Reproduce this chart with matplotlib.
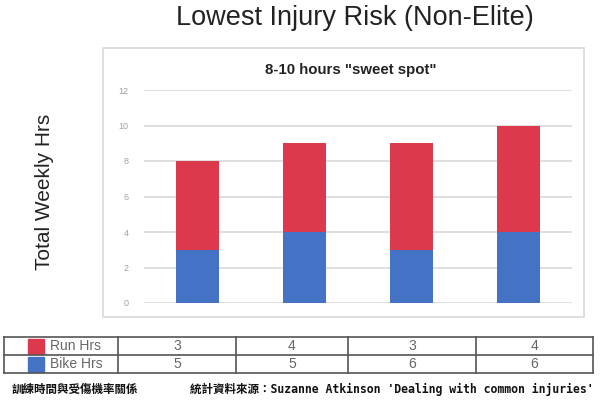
import matplotlib
matplotlib.use("Agg")
import matplotlib.pyplot as plt
from matplotlib.patches import Rectangle
import numpy as np

categories = ["A", "B", "C", "D"]
blue_vals = [3, 4, 3, 4]      # bottom segment (blue)
red_vals = [5, 5, 6, 6]       # top segment (red)
table_run = [3, 4, 3, 4]
table_bike = [5, 5, 6, 6]
row_labels = ["Run Hrs", "Bike Hrs"]
yticks = [0, 2, 4, 6, 8, 10, 12]

RED = "#DC3A4C"
BLUE = "#4472C4"

W, H = 600, 400
fig = plt.figure(figsize=(6, 4), dpi=100)
fig.patch.set_facecolor("white")

def fx(px):
    return px / W

def fy(py):
    return 1 - py / H

# outer chart box
fig.patches.append(Rectangle((fx(103), fy(317)), fx(584) - fx(103), fy(48) - fy(317),
                             transform=fig.transFigure, fill=False,
                             edgecolor="#d9d9d9", linewidth=1.2, zorder=0))

# main title
fig.text(fx(355), fy(18), "Lowest Injury Risk (Non-Elite)", ha="center", va="center",
         fontsize=19.5, color="#222222", family="Liberation Sans")
# subtitle
fig.text(fx(351), fy(70), '8-10 hours "sweet spot"', ha="center", va="center",
         fontsize=10.8, fontweight="bold", color="#222222", family="Liberation Sans")
# y label
fig.text(fx(45), fy(192), "Total Weekly Hrs", ha="center", va="center", rotation=90,
         fontsize=15, color="#222222", family="Liberation Sans")

ax = fig.add_axes([fx(144), fy(303), fx(572) - fx(144), fy(90) - fy(303)])
x = np.arange(len(categories))
ax.bar(x, blue_vals, width=0.4, color=BLUE, zorder=3)
ax.bar(x, red_vals, bottom=blue_vals, width=0.4, color=RED, zorder=3)
ax.set_xlim(-0.5, len(categories) - 0.5)
ax.set_ylim(0, 12)
ax.set_yticks(yticks)
ax.set_yticklabels([str(t) for t in yticks], fontsize=6.5, color="#a0a0a0", family="Liberation Sans")
ax.tick_params(axis="y", length=0, pad=11)
ax.set_xticks([])
for s in ax.spines.values():
    s.set_visible(False)
ax.grid(axis="y", color="#d9d9d9", linewidth=1.2, zorder=0)
ax.set_axisbelow(True)

# table
tx = fig.add_axes([0, 0, 1, 1])
tx.set_xlim(0, W)
tx.set_ylim(H, 0)
tx.axis("off")
cols = [4, 118, 236, 348, 476, 593]
rows = [337, 355, 373]
lc = "#555555"
for c in cols:
    tx.plot([c, c], [rows[0], rows[-1]], color=lc, lw=1.2)
for r in rows:
    tx.plot([cols[0], cols[-1]], [r, r], color=lc, lw=1.2)
tfont = dict(family=["Liberation Sans Narrow", "Liberation Sans"], fontsize=10, color="#666666")
for ri, (lab, vals, col) in enumerate(zip(row_labels, [table_run, table_bike], [RED, BLUE])):
    yc = (rows[ri] + rows[ri + 1]) / 2
    tx.add_patch(Rectangle((28, yc - 7.5), 16, 15, color=col))
    tx.text(50, yc, lab, ha="left", va="center", **tfont)
    for ci, v in enumerate(vals):
        xc = (cols[ci + 1] + cols[ci + 2]) / 2
        tx.text(xc, yc, str(v), ha="center", va="center", **tfont)

# footer
ffont = dict(family=["DejaVu Sans Mono", "Noto Sans CJK TC"], fontsize=8.3, color="#111111",
             fontweight="bold")
tx.text(12, 389, "訓練時間與受傷機率關係", ha="left", va="center", **ffont)
tx.text(190, 389, "統計資料來源：Suzanne Atkinson 'Dealing with common injuries'",
        ha="left", va="center", **ffont)

fig.savefig("out.png", dpi=100, facecolor="white")
